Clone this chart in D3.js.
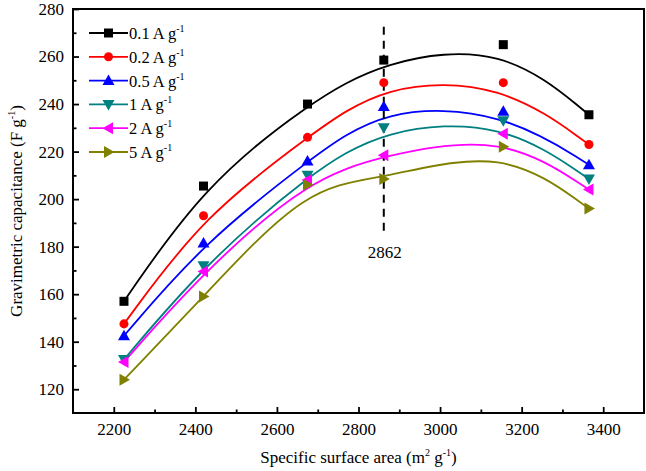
<!DOCTYPE html>
<html>
<head>
<meta charset="utf-8">
<script src="https://cdn.jsdelivr.net/npm/d3@7"></script>
<style>
  html, body { margin: 0; padding: 0; background: #fff; }
  svg { display: block; }
  text { font-family: "Liberation Serif", "Times New Roman", serif; fill: #000; }
</style>
</head>
<body>
<svg id="chart" width="646" height="471"></svg>
<script>
// ---- data ----
const surfaceArea = [2225, 2420, 2675, 2862, 3155, 3365];
const seriesNames = ["0.1 A g", "0.2 A g", "0.5 A g", "1 A g", "2 A g", "5 A g"];
const cap01 = [157, 205.5, 240, 258.5, 265, 235.5];
const cap02 = [147.5, 193, 226, 249, 249, 223];
const cap05 = [142.5, 181.5, 216, 239, 237, 214.5];
const cap1  = [132.5, 172, 210, 230, 233, 208.5];
const cap2  = [131.5, 169.5, 208, 218.5, 227.5, 204];
const cap5  = [124, 159, 206, 208.5, 222, 196];
const xTicks = [2200, 2400, 2600, 2800, 3000, 3200, 3400];
const xMinor = [2300, 2500, 2700, 2900, 3100, 3300];
const yTicks = [120, 140, 160, 180, 200, 220, 240, 260, 280];
const yMinor = [130, 150, 170, 190, 210, 230, 250, 270];
const markerLineX = 2862;
const markerLineY = [185.5, 272.5];
const markerLabel = "2862";

// ---- styles ----
const colors = ["#000000", "#ff0000", "#0000ff", "#008080", "#ff00ff", "#808000"];
const shapes = ["square", "circle", "up", "down", "left", "right"];
const allSeries = [cap01, cap02, cap05, cap1, cap2, cap5];

const svg = d3.select("#chart");
const L = 73, R = 644, T = 9, B = 413;
const x = d3.scaleLinear().domain([2100, 3500]).range([L, R]);
const y = d3.scaleLinear().domain([110, 280]).range([B, T]);

function markerPath(shape) {
  switch (shape) {
    case "square": return "M-4.5,-4.5H4.5V4.5H-4.5Z";
    case "circle": return d3.symbol(d3.symbolCircle, 64)();
    case "up": return "M0,-6L6,4.5L-6,4.5Z";
    case "down": return "M0,6L6,-4.5L-6,-4.5Z";
    case "left": return "M-6,0L4.5,-6L4.5,6Z";
    case "right": return "M6,0L-4.5,-6L-4.5,6Z";
  }
}

// axes
const fontSize = 17;
const gx = svg.append("g").attr("transform", `translate(0,${B})`)
  .call(d3.axisBottom(x).tickValues(xTicks).tickSize(-6).tickPadding(10).tickFormat(d3.format("d")));
const gxm = svg.append("g").attr("transform", `translate(0,${B})`)
  .call(d3.axisBottom(x).tickValues(xMinor).tickSize(-3.5).tickFormat(""));
const gy = svg.append("g").attr("transform", `translate(${L},0)`)
  .call(d3.axisLeft(y).tickValues(yTicks).tickSize(-6).tickPadding(9).tickFormat(d3.format("d")));
const gym = svg.append("g").attr("transform", `translate(${L},0)`)
  .call(d3.axisLeft(y).tickValues(yMinor).tickSize(-3.5).tickFormat(""));
[gx, gxm, gy, gym].forEach(g => {
  g.select(".domain").remove();
  g.selectAll(".tick line").attr("stroke", "#000").attr("stroke-width", 1.8);
  g.selectAll(".tick text").style("font-size", fontSize + "px")
    .style("font-family", '"Liberation Serif", "Times New Roman", serif').attr("fill", "#000");
});

// frame
svg.append("rect").attr("x", L).attr("y", T).attr("width", R - L).attr("height", B - T)
  .attr("fill", "none").attr("stroke", "#000").attr("stroke-width", 2);

// curves
const line = d3.line().x(d => x(d[0])).y(d => y(d[1])).curve(d3.curveBasis);
allSeries.forEach((vals, i) => {
  const pts = surfaceArea.map((sx, j) => [sx, vals[j]]);
  svg.append("path").attr("d", line(pts)).attr("fill", "none")
    .attr("stroke", colors[i]).attr("stroke-width", 1.8);
});

// dashed marker line
svg.append("line")
  .attr("x1", x(markerLineX)).attr("x2", x(markerLineX))
  .attr("y1", y(markerLineY[1])).attr("y2", y(markerLineY[0]))
  .attr("stroke", "#000").attr("stroke-width", 2).attr("stroke-dasharray", "8,6");

// points
allSeries.forEach((vals, i) => {
  svg.append("g").selectAll("path").data(vals).join("path")
    .attr("transform", (d, j) => `translate(${x(surfaceArea[j])},${y(d)})`)
    .attr("d", markerPath(shapes[i])).attr("fill", colors[i]);
});

svg.append("text").attr("x", x(markerLineX) + 1).attr("y", y(markerLineY[0]) + 24)
  .attr("text-anchor", "middle").style("font-size", "17px").text(markerLabel);

// legend
const legY0 = 33, legDy = 23.8;
seriesNames.forEach((name, i) => {
  const yy = legY0 + i * legDy;
  svg.append("line").attr("x1", 89).attr("x2", 128).attr("y1", yy).attr("y2", yy)
    .attr("stroke", colors[i]).attr("stroke-width", 1.8);
  svg.append("path").attr("transform", `translate(108.5,${yy})`)
    .attr("d", markerPath(shapes[i])).attr("fill", colors[i]);
  const t = svg.append("text").attr("x", 129).attr("y", yy + 6).style("font-size", "16.5px");
  t.append("tspan").text(name);
  t.append("tspan").attr("dy", -7).style("font-size", "10px").text("-1");
});

// axis titles
const xt = svg.append("text").attr("x", (L + R) / 2).attr("y", 463)
  .attr("text-anchor", "middle").style("font-size", "17px");
xt.append("tspan").text("Specific surface area (m");
xt.append("tspan").attr("dy", -7).style("font-size", "10px").text("2");
xt.append("tspan").attr("dy", 7).text(" g");
xt.append("tspan").attr("dy", -7).style("font-size", "10px").text("-1");
xt.append("tspan").attr("dy", 7).text(")");

const yt = svg.append("text").attr("transform", `translate(22,${(T + B) / 2}) rotate(-90)`)
  .attr("text-anchor", "middle").style("font-size", "17px");
yt.append("tspan").text("Gravimetric capacitance (F g");
yt.append("tspan").attr("dy", -7).style("font-size", "10px").text("-1");
yt.append("tspan").attr("dy", 7).text(")");
</script>
</body>
</html>
